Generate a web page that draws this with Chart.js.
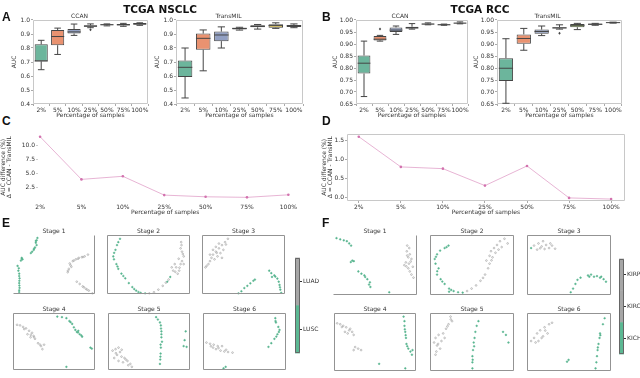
<!DOCTYPE html>
<html><head><meta charset="utf-8">
<script src="https://cdn.jsdelivr.net/npm/chart.js@4.4.1/dist/chart.umd.min.js"></script>
<style>
body{margin:0;background:#fff;}
#wrap{position:relative;width:640px;height:378px;overflow:hidden;background:#fff;}
canvas{position:absolute;}
.t{position:absolute;white-space:nowrap;color:#111;line-height:1;}
.big{font:bold 10.5px 'DejaVu Sans',sans-serif;}
.let{font:bold 12px 'Liberation Sans',Arial,sans-serif;}
</style></head><body><div id="wrap"></div>
<script>
// ---------- DATA ----------
const pctLabels = ['2%','5%','10%','25%','50%','75%','100%'];

const nsclcCcanMin = [0.645,0.754,0.890,0.945,0.958,0.955,0.962];
const nsclcCcanQ1  = [0.705,0.820,0.904,0.952,0.962,0.960,0.966];
const nsclcCcanMed = [0.707,0.882,0.915,0.956,0.966,0.966,0.972];
const nsclcCcanQ3  = [0.826,0.928,0.935,0.962,0.970,0.972,0.978];
const nsclcCcanMax = [0.855,0.942,0.971,0.972,0.972,0.976,0.980];
const nsclcCcanOut = [[],[],[],[0.930],[],[],[]];

const nsclcTmMin = [0.443,0.637,0.800,0.928,0.935,0.940,0.945];
const nsclcTmQ1  = [0.593,0.788,0.849,0.932,0.948,0.945,0.950];
const nsclcTmMed = [0.662,0.869,0.893,0.940,0.955,0.960,0.958];
const nsclcTmQ3  = [0.710,0.903,0.917,0.945,0.963,0.970,0.965];
const nsclcTmMax = [0.800,0.929,0.951,0.948,0.968,0.980,0.972];
const nsclcTmOut = [[],[],[],[],[],[],[]];

const rccCcanMin = [0.681,0.912,0.940,0.962,0.980,0.978,0.984];
const rccCcanQ1  = [0.777,0.915,0.950,0.965,0.981,0.979,0.985];
const rccCcanMed = [0.820,0.920,0.958,0.967,0.983,0.980,0.987];
const rccCcanQ3  = [0.852,0.933,0.969,0.972,0.985,0.982,0.989];
const rccCcanMax = [0.912,0.936,0.975,0.985,0.988,0.983,0.992];
const rccCcanOut = [[],[0.962],[],[],[],[],[]];

const rccTmMin = [0.653,0.874,0.935,0.962,0.960,0.978,0.987];
const rccTmQ1  = [0.746,0.901,0.943,0.965,0.970,0.980,0.988];
const rccTmMed = [0.799,0.923,0.952,0.967,0.978,0.982,0.989];
const rccTmQ3  = [0.841,0.940,0.960,0.970,0.983,0.985,0.990];
const rccTmMax = [0.922,0.965,0.975,0.980,0.986,0.986,0.991];
const rccTmOut = [[],[],[],[0.945],[],[],[]];

const nsclcDiff = [11.6,4.0,4.55,1.2,0.9,0.8,1.25];
const rccDiff   = [1.59,0.805,0.76,0.32,0.83,0.0,-0.03];

const nsclcTypes = ['LUSC','LUAD'];
const rccTypes   = ['KICH','KIRC','KIRP'];
const stageNames = ['Stage 1','Stage 2','Stage 3','Stage 4','Stage 5','Stage 6'];

const e1Green=[[30,95],[29,91],[28,87],[29,83],[27,79],[25.5,75],[23.6,72],[22,69.5],[11,61.5],[12,59],[10,57],[6,48],[7,40],[8,35],[8.4,27],[8,19],[8.4,11],[8,4],[28,90],[26,77],[11,60],[7.5,44],[8,31],[8.2,23],[8.2,15],[8,7]];
const e1Gray=[[91,67],[87,64],[83.6,62.6],[80,61.5],[76.4,59],[72.7,56],[69,52],[71,46.5],[68,43],[66.5,37.4],[77.5,21.4],[81,17.6],[84.7,13.4],[88.4,9.6],[92,6.4],[96.4,1.6],[74,57],[85,63],[70,49],[79,60],[67,40],[86,12],[90,8]];
const e2Green=[[16,93.6],[14,88],[12.4,83],[10.6,75],[8,64],[8.8,59],[11.7,51],[14,43],[17.7,35],[22.3,27],[26.5,19],[30.7,12.3],[35.3,6.4],[40.6,2.7],[46,1.6],[76,29.4],[72.4,21.4],[9,70],[13,47],[20,31],[33,9],[38,4]];
const e2Gray=[[51,1.6],[56.5,3.7],[61.8,8],[67,14.4],[70.7,19.8],[79.5,40],[83,45.5],[86.6,40],[84.8,34.8],[88.3,51],[90,56],[92,64],[90,72],[88.3,77.5],[89.4,83],[92,51],[81.3,51],[77.7,45.5],[74,25],[87,45],[91,68],[86,60],[89,88],[82,38]];
const e3Green=[[44,1.6],[47.5,5.3],[51,10.7],[54.6,14.4],[58.2,18.7],[61.8,23],[63.6,25],[80.7,40],[83.2,35.8],[86.8,32],[90.4,26.7],[92,21.4],[93,16],[94,8],[95,2.7],[84,29.4],[88,30],[93.5,12]];
const e3Gray=[[4.6,45.5],[8.2,51],[10,56],[11.8,61.5],[13.6,67],[17,72],[20.7,77.5],[24.3,83],[28,88],[31.4,93.6],[15.4,59],[19,64],[22.5,69.5],[26,75],[13.6,75],[17,80],[20.7,85.6],[10,67],[24.3,61.5],[6,48],[29,84],[18,70]];
const e4Green=[[54,93.8],[59.6,92.8],[65,91],[68.6,86],[72,81],[75.8,70.6],[77.6,67],[81,63],[84,58.8],[79.4,69],[94,39.7],[95.7,38],[65,6.2],[83,61],[79,66],[70,84],[74,75]];
const e4Gray=[[5.4,79.4],[9,78.4],[12.6,75.8],[16.2,73.2],[19.9,69],[23.5,65.5],[25.3,60],[27,55],[21.7,57.7],[18,63],[30.7,47.4],[34.3,42.3],[36,37],[38,44.8],[14,72],[22,62],[26,58],[33,45]];
const e5Green=[[58.6,92.8],[60.7,88.7],[63.2,83.5],[64.3,78.4],[65,68],[65,57.7],[65.7,50],[64.3,39.7],[64,29.4],[63.6,19],[63.2,11.3],[94.3,68],[93,52.6],[91.8,42.3],[95.4,41],[64.5,73],[65,63],[64,45],[63.8,24]];
const e5Gray=[[6,34.5],[9.6,37],[13.2,39.7],[15,32],[11.4,27],[8,21.6],[16.8,24],[20.4,21.6],[24,16.5],[27.5,11.3],[29.3,6.2],[18.6,14],[13.2,16.5],[10,30],[17,36],[22,19],[25,9]];
const e6Green=[[86.8,91],[87.5,83.5],[90.4,75.8],[91.8,70.6],[89.3,63],[85.7,55],[82,47.4],[78.6,41],[27.5,6.2],[25,3.6],[91,67],[88,59],[87,86]];
const e6Gray=[[4.6,48.5],[8.9,46.4],[13.2,44.8],[18,42.3],[12.5,39.7],[16,37],[21.4,34.5],[26,33],[30.4,32],[35.7,31],[23.2,42.3],[10,42],[19,39],[28,36]];

const f1Green=[[4.6,94.8],[9,92.8],[13.2,91.2],[16.8,89.7],[19.6,86],[21.8,82.5],[23.2,57.7],[25,56.7],[21.4,55.2],[30.4,39.7],[34,36],[37.5,33],[41,26.8],[44,21.6],[44.6,14],[66.8,5.2],[38.5,30.5],[43,18]];
const f1Gray=[[88,82.5],[90.4,78.4],[87.5,73],[91,68],[89.3,63],[93,60.3],[86.4,54.6],[90,52.6],[84.6,50],[94.6,47.4],[89.3,44.8],[91,39.7],[93,34.5],[95.4,29.4],[88,66],[92,56],[87,48]];
const f2Green=[[22.3,82.5],[17.7,78.4],[12.4,74.2],[8.8,68],[6,60.3],[7,52.6],[10.6,44.8],[8.8,34.5],[13,26.8],[17.7,19],[23,11.3],[28.3,7.2],[33.6,5.2],[39,4.6],[23,6.2],[20,80],[7.5,64],[9,40],[15,23],[25.5,9]];
const f2Gray=[[44.2,7.2],[49.5,11.3],[54.8,16.5],[60,24.2],[65.4,34.5],[69,44.8],[67,57.7],[70.7,65.5],[72.4,73.2],[76,78.4],[79.5,83.5],[83,89.7],[88.3,93.8],[92,86],[74.2,63],[77.7,70.6],[70.7,52.6],[81.3,75.8],[63,29],[85,80],[73,58]];
const f3Green=[[5.3,78.4],[52,5.2],[54.8,11.3],[57.6,19],[60,25.8],[63.6,29.4],[72.4,33],[76,34.5],[79.5,31],[83,32],[86.6,29.4],[90.8,26.8],[93.6,22.7],[74,31],[88,31]];
const f3Gray=[[8.8,82.5],[14,86],[19.4,89.7],[17.7,81],[23,83.5],[26.5,78.4],[30,82.5],[33.6,77.3],[21.2,76.8],[12.4,75.8],[28,86],[16,78]];
const f4Green=[[84.5,93.8],[85.6,86],[85.6,78],[86.6,67.7],[87.4,57.3],[88,47],[90.3,39],[92.8,34],[94.6,28.6],[95.3,36.5],[55,13],[86.6,5.2],[86,72],[87,62],[89,43]];
const f4Gray=[[4.3,82.3],[8,80.7],[11.6,78],[15.2,75.5],[18.8,70.3],[17,65],[22.4,67.7],[24.2,62.5],[13.7,67.7],[26,41.7],[24.2,36.5],[29.6,39],[33.2,36.5],[20,73],[10,76]];
const f5Green=[[57.6,86],[55.5,78],[54,67.7],[53,57.3],[52,49.5],[51.2,36.5],[50.5,26],[50.5,15.6],[50.5,5.2],[86.6,67.7],[90,62.5],[93,49.5],[52.5,43],[50.8,20]];
const f5Gray=[[24.7,93.8],[26.5,86],[22.3,80.7],[19.4,73],[16,65],[10.6,62.5],[7,57.3],[5.3,49.5],[8.8,44.3],[12.4,39],[8,34],[7,28.6],[14,52],[17.7,57.3],[21,77],[25,89],[10,47]];
const f6Green=[[92,91],[90,80.7],[86.6,65],[86,57.3],[84.8,47],[83.7,36.5],[83,26],[82.3,15.6],[81.3,5.2],[47.7,16.7],[49.5,19.8],[87,62],[84,41]];
const f6Gray=[[5.3,52],[8.8,57.3],[12.4,65],[16,70.3],[21.2,75.5],[26.5,80.7],[30,83.3],[14,52],[19.4,60],[24.7,65],[10.6,49.5],[17.7,57.3],[22,70]];

// ---------- STYLE ----------
const boxColors = ['#6cb59c','#e99270','#92a0c3','#db92be','#a0c762','#e2c54a','#d9c09c'];
const GREEN = '#5cb893', GRAY = '#a6a6a6';
Chart.defaults.font.family = "'DejaVu Sans', sans-serif";
Chart.defaults.font.size = 6;
Chart.defaults.color = '#333';
Chart.defaults.animation = false;
Chart.defaults.responsive = false;
Chart.defaults.devicePixelRatio = 1;
Chart.defaults.plugins.legend.display = false;
Chart.defaults.plugins.tooltip.enabled = false;

const wrap = document.getElementById('wrap');
function place(l,t,w,h){
  const c=document.createElement('canvas');
  c.width=w;c.height=h;c.style.left=l+'px';c.style.top=t+'px';
  c.style.width=w+'px';c.style.height=h+'px';wrap.appendChild(c);return c;
}
function text(cls,str,l,t,extra){
  const d=document.createElement('div');d.className='t '+cls;d.textContent=str;
  d.style.left=l+'px';d.style.top=t+'px';if(extra)Object.assign(d.style,extra);wrap.appendChild(d);return d;
}
function framePlugin(color,sides,width){
  sides = sides||'ltrb';
  return {id:'frame',afterDatasetsDraw(chart){
    const a=chart.chartArea,ctx=chart.ctx;const L=Math.round(a.left)+0.5,R=Math.round(a.right)-0.5,T=Math.round(a.top)+0.5,B=Math.round(a.bottom)-0.5;
    ctx.save();ctx.strokeStyle=color;ctx.lineWidth=width||1;ctx.beginPath();
    if(sides.includes('l')){ctx.moveTo(L,T);ctx.lineTo(L,B);}
    if(sides.includes('r')){ctx.moveTo(R,T);ctx.lineTo(R,B);}
    if(sides.includes('t')){ctx.moveTo(L,T);ctx.lineTo(R,T);}
    if(sides.includes('b')){ctx.moveTo(L,B);ctx.lineTo(R,B);}
    ctx.stroke();ctx.restore();}};
}
function boxPlugin(d){
  return {id:'boxes',afterDatasetsDraw(chart){
    const ctx=chart.ctx,ys=chart.scales.y,meta=chart.getDatasetMeta(0);const py=v=>ys.getPixelForValue(v);
    ctx.save();ctx.strokeStyle='#454545';ctx.lineWidth=1;
    meta.data.forEach((bar,i)=>{
      const x=bar.x,hw=bar.width/2,cw=hw*0.5;
      ctx.beginPath();
      ctx.moveTo(x,py(d.q3[i]));ctx.lineTo(x,py(d.max[i]));
      ctx.moveTo(x-cw,py(d.max[i]));ctx.lineTo(x+cw,py(d.max[i]));
      ctx.moveTo(x,py(d.q1[i]));ctx.lineTo(x,py(d.min[i]));
      ctx.moveTo(x-cw,py(d.min[i]));ctx.lineTo(x+cw,py(d.min[i]));
      ctx.moveTo(x-hw,py(d.med[i]));ctx.lineTo(x+hw,py(d.med[i]));
      ctx.stroke();
      d.out[i].forEach(v=>{const y=py(v);ctx.fillStyle='#444';ctx.beginPath();ctx.moveTo(x,y-1.5);ctx.lineTo(x+1.2,y);ctx.lineTo(x,y+1.5);ctx.lineTo(x-1.2,y);ctx.closePath();ctx.fill();});
    });
    ctx.restore();}};
}

// ---------- BOX PLOTS ----------
function boxChart(frameL,frameR,yW,title,d,yMin,yMax,step,dec){
  const top=20,bottom=104,xh=15,rp=2;
  const cv=place(frameL-yW,top-8,yW+(frameR-frameL)+rp,8+(bottom-top)+xh);
  return new Chart(cv,{
    type:'bar',
    data:{labels:pctLabels,datasets:[{data:d.q1.map((v,i)=>[v,d.q3[i]]),backgroundColor:boxColors,borderColor:'#454545',borderWidth:1,borderSkipped:false,barPercentage:0.8,categoryPercentage:1}]},
    options:{
      layout:{padding:{left:0,right:rp,top:0,bottom:0}},
      plugins:{title:{display:true,text:title,font:{size:6,weight:'normal'},padding:{top:0.8,bottom:0},color:'#333'}},
      scales:{
        x:{grid:{display:true,drawOnChartArea:false,tickLength:2,color:'#aaa'},border:{display:false},ticks:{padding:1,maxRotation:0,autoSkip:false,font:{size:6}},
           title:{display:true,text:'Percentage of samples',padding:0,font:{size:6}},afterFit(s){s.height=xh;}},
        y:{min:yMin,max:yMax,ticks:{stepSize:step,callback:v=>Number(v).toFixed(dec),padding:1,font:{size:6}},grid:{display:true,drawOnChartArea:false,tickLength:2,color:'#aaa'},border:{display:false},
           title:{display:true,text:'AUC',padding:0,font:{size:6}},afterFit(s){s.width=yW;}}
      }
    },
    plugins:[framePlugin('#c8c8c8'),boxPlugin(d)]
  });
}
boxChart(33,148,22,'CCAN',{min:nsclcCcanMin,q1:nsclcCcanQ1,med:nsclcCcanMed,q3:nsclcCcanQ3,max:nsclcCcanMax,out:nsclcCcanOut},0.4,1.0,0.1,1);
boxChart(176,303,22,'TransMIL',{min:nsclcTmMin,q1:nsclcTmQ1,med:nsclcTmMed,q3:nsclcTmQ3,max:nsclcTmMax,out:nsclcTmOut},0.4,1.0,0.1,1);
boxChart(356,468,24,'CCAN',{min:rccCcanMin,q1:rccCcanQ1,med:rccCcanMed,q3:rccCcanQ3,max:rccCcanMax,out:rccCcanOut},0.65,1.0,0.05,2);
boxChart(497,622,24,'TransMIL',{min:rccTmMin,q1:rccTmQ1,med:rccTmMed,q3:rccTmQ3,max:rccTmMax,out:rccTmOut},0.65,1.0,0.05,2);

// ---------- DIFFERENCE LINES ----------
function diffChart(frameL,frameR,yW,vals,xMin,xMax,yMin,yMax,step,dec,frame){
  const top=133,bottom=201,xh=15;
  const cv=place(frameL-yW,top-4,yW+(frameR-frameL)+2,4+(bottom-top)+xh);
  return new Chart(cv,{
    type:'scatter',
    data:{datasets:[{data:vals.map((v,i)=>({x:i,y:v})),showLine:true,borderColor:'rgba(222,150,195,0.9)',borderWidth:0.8,pointRadius:1.3,pointBackgroundColor:'#d272ae',pointBorderWidth:0}]},
    options:{
      layout:{padding:{left:0,right:2,top:4,bottom:0}},
      scales:{
        x:{type:'linear',min:xMin,max:xMax,afterBuildTicks(s){s.ticks=pctLabels.map((_,i)=>({value:i}));},
           ticks:{callback:(v,i)=>pctLabels[i],padding:1,maxRotation:0,autoSkip:false,font:{size:6}},
           grid:{display:true,drawOnChartArea:false,tickLength:2,color:frame?'#aaa':'#fff'},border:{display:false},
           title:{display:true,text:'Percentage of samples',padding:0,font:{size:6}},afterFit(s){s.height=xh;}},
        y:{min:yMin,max:yMax,ticks:{stepSize:step,includeBounds:false,callback:v=>Number(v).toFixed(dec),padding:1,font:{size:6}},
           grid:{display:true,drawOnChartArea:false,tickLength:2,color:frame?'#aaa':'#ccc'},border:{display:false},
           title:{display:true,text:['AUC difference (%)','\u0394 = CCAN - TransMIL'],padding:0,font:{size:6,lineHeight:1.1}},afterFit(s){s.width=yW;}}
      }
    },
    plugins:frame?[framePlugin('#c8c8c8')]:[]
  });
}
diffChart(38,296,38,nsclcDiff,-0.05,6.1,0.15,12.15,2.5,1,false);
diffChart(347,627,26,rccDiff,-0.28,6.33,-0.08,1.67,0.5,1,true);

// ---------- EMBEDDING PANELS ----------
function scatterPanel(l,r,t,b,name,gray,green,sides){
  const cv=place(l,t-8,r-l,8+(b-t));
  return new Chart(cv,{
    type:'scatter',
    data:{datasets:[
      {data:gray.map(p=>({x:p[0],y:p[1]})),pointRadius:0.85,pointBackgroundColor:'rgba(255,255,255,0.5)',pointBorderColor:'#9a9a9a',pointBorderWidth:0.6},
      {data:green.map(p=>({x:p[0],y:p[1]})),pointRadius:0.85,pointBackgroundColor:GREEN,pointBorderColor:'#52b08b',pointBorderWidth:0.5}
    ]},
    options:{
      layout:{padding:0},
      plugins:{title:{display:true,text:name,font:{size:6,weight:'normal'},padding:{top:0.8,bottom:0},color:'#333'}},
      scales:{x:{display:false,min:0,max:100},y:{display:false,min:0,max:100}}
    },
    plugins:[framePlugin('#939393',sides)]
  });
}
const eCols1=[[8,100],[102,195],[197,290]], eCols2=[[8,100],[103,195],[198,291]];
const fCols1=[[328,422],[425,519],[522,616]], fCols2=[[329,421],[425,519],[522,616]];
const eData=[[e1Gray,e1Green],[e2Gray,e2Green],[e3Gray,e3Green],[e4Gray,e4Green],[e5Gray,e5Green],[e6Gray,e6Green]];
const fData=[[f1Gray,f1Green],[f2Gray,f2Green],[f3Gray,f3Green],[f4Gray,f4Green],[f5Gray,f5Green],[f6Gray,f6Green]];
for(let i=0;i<3;i++){
  scatterPanel(eCols1[i][0],eCols1[i][1],235,299,stageNames[i],eData[i][0],eData[i][1],i===0?'rb':'ltrb');
  scatterPanel(eCols2[i][0],eCols2[i][1],313,375,stageNames[i+3],eData[i+3][0],eData[i+3][1],'ltrb');
  scatterPanel(fCols1[i][0],fCols1[i][1],235,300,stageNames[i],fData[i][0],fData[i][1],i===0?'rb':'ltrb');
  scatterPanel(fCols2[i][0],fCols2[i][1],313,376,stageNames[i+3],fData[i+3][0],fData[i+3][1],'ltrb');
}

// ---------- COLORBARS ----------
function colorbar(l,t,w,h,yW,names,colors){
  const cv=place(l-2,t,w+2+yW,h);
  return new Chart(cv,{
    type:'bar',
    data:{labels:[''],datasets:names.map((n,i)=>({data:[[i,i+1]],backgroundColor:colors[i],borderWidth:0,barPercentage:1,categoryPercentage:1,grouped:false}))},
    options:{
      layout:{padding:{left:2,right:0,top:0,bottom:0}},
      scales:{
        x:{display:false},
        y:{position:'right',min:0,max:names.length,afterBuildTicks(s){s.ticks=names.map((_,i)=>({value:i+0.5}));},
           ticks:{callback:(v,i)=>names[i],padding:1,font:{size:6}},grid:{display:true,drawOnChartArea:false,tickLength:2,color:'#333'},border:{display:false},
           afterFit(s){s.width=yW;}}
      }
    },
    plugins:[framePlugin('#666')]
  });
}
colorbar(295,253,5,105,30,nsclcTypes,[GREEN,GRAY]);
colorbar(619,254,5,105,16,rccTypes,[GREEN,GRAY,GRAY]);

// ---------- TEXT ----------
text('big','TCGA NSCLC',160,3,{transform:'translateX(-50%)'});
text('big','TCGA RCC',480,3,{transform:'translateX(-50%)'});
text('let','A',2,10);text('let','B',322,10);
text('let','C',2,114);text('let','D',322,114);
text('let','E',2,216);text('let','F',322,216);
</script></body></html>
